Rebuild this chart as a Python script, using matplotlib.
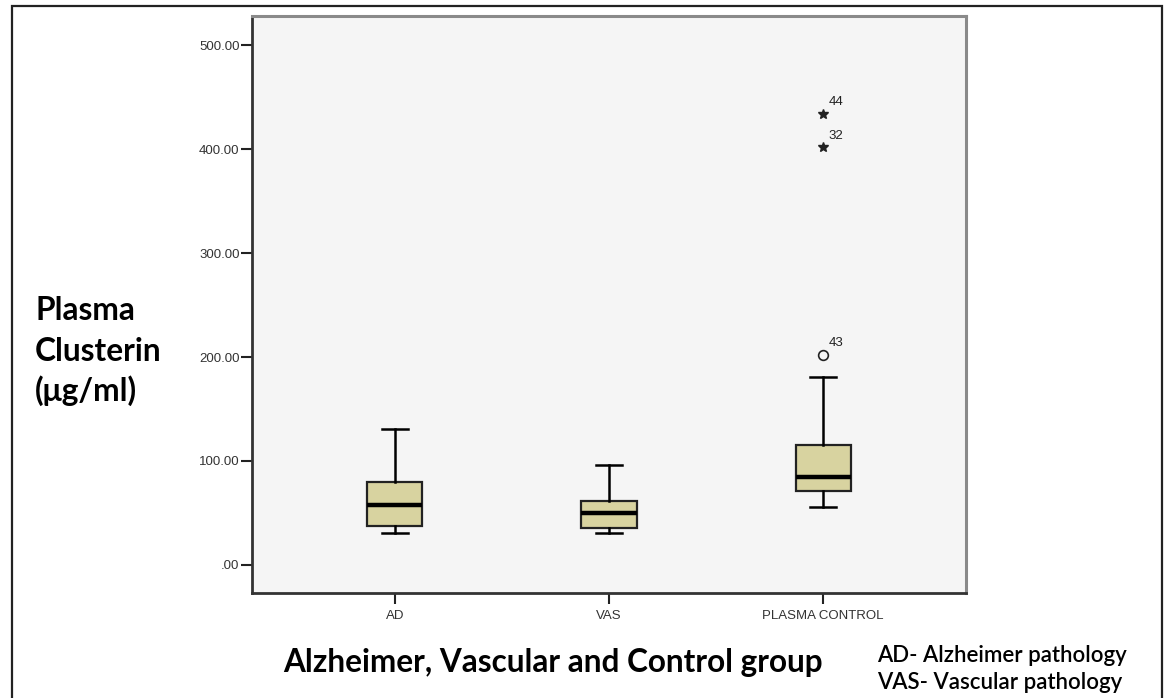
import matplotlib
matplotlib.use("Agg")
import matplotlib.pyplot as plt
from matplotlib.patches import Rectangle

# Box statistics
groups = ["AD", "VAS", "PLASMA CONTROL"]
whislo = [30.5, 30.5, 55.9]
q1 = [37.6, 35.4, 71.3]
med = [57.5, 49.8, 84.8]
q3 = [79.3, 61.7, 115.3]
whishi = [130.7, 96.6, 180.4]

# outliers of the control group
circle_vals = [202.3]
circle_ids = ["43"]
star_vals = [434.2, 402.0]
star_ids = ["44", "32"]

yticks = [0, 100, 200, 300, 400, 500]
ytick_labels = [".00", "100.00", "200.00", "300.00", "400.00", "500.00"]

fig = plt.figure(figsize=(11.65, 6.98), dpi=100)
fig.patch.set_facecolor("white")

# outer frame of the slide
fig.add_artist(Rectangle((12 / 1165, -0.01), (1162 - 12) / 1165, 1 - 6 / 698 + 0.01,
                         transform=fig.transFigure, fill=False,
                         edgecolor="#222222", linewidth=1.6))

ax = fig.add_axes([252 / 1165, 1 - 593 / 698, (966 - 252) / 1165, (593 - 16) / 698])
ax.set_facecolor("#f5f5f5")

stats = []
for i, g in enumerate(groups):
    stats.append(dict(label=g, whislo=whislo[i], q1=q1[i], med=med[i],
                      q3=q3[i], whishi=whishi[i], fliers=[]))

ax.bxp(stats, positions=[1, 2, 3], widths=0.257, patch_artist=True,
       showfliers=False,
       boxprops=dict(facecolor="#d8d3a0", edgecolor="#222222", linewidth=1.6),
       medianprops=dict(color="black", linewidth=3.2),
       whiskerprops=dict(color="black", linewidth=1.8),
       capprops=dict(color="black", linewidth=1.8),
       capwidths=0.12)

# outliers
ax.plot([3] * len(circle_vals), circle_vals, linestyle="none", marker="o",
        markersize=7, markerfacecolor="none", markeredgecolor="#222222",
        markeredgewidth=1.2)
ax.plot([3] * len(star_vals), star_vals, linestyle="none", marker="*",
        markersize=7, color="#222222")
for v, lab in zip(circle_vals + star_vals, circle_ids + star_ids):
    ax.annotate(lab, (3, v), xytext=(4, 6), textcoords="offset points",
                fontsize=9.5, family="Liberation Sans", color="#222222")

ax.set_xlim(0.332, 3.668)
ax.set_ylim(-27, 528)
ax.set_yticks(yticks)
ax.set_yticklabels(ytick_labels)
ax.set_xticks([1, 2, 3])
ax.set_xticklabels(groups)
ax.tick_params(axis="both", direction="out", length=8, width=1.5,
               labelsize=9.5, colors="#222222", labelcolor="#333333")
ax.tick_params(axis="y", pad=1)
ax.tick_params(axis="x", pad=4)
for lab in ax.get_xticklabels() + ax.get_yticklabels():
    lab.set_family("Liberation Sans")

for side in ["left", "bottom"]:
    ax.spines[side].set_color("#333333")
    ax.spines[side].set_linewidth(2)
for side in ["top", "right"]:
    ax.spines[side].set_color("#8a8a8a")
    ax.spines[side].set_linewidth(2.2)

big = dict(family="Lato", fontweight="bold", color="black")
ylab_lines = ["Plasma", "Clusterin", "(\u03bcg/ml)"]
ylab_base = [320, 361, 401]
for txt, yb in zip(ylab_lines, ylab_base):
    fig.text(35 / 1165, 1 - yb / 698, txt, fontsize=22.8,
             va="baseline", ha="left", **big)
fig.text(553 / 1165, 1 - 672 / 698, "Alzheimer, Vascular and Control group",
         fontsize=22.7, ha="center", va="baseline", **big)
fig.text(877 / 1165, 1 - 662 / 698, "AD- Alzheimer pathology", fontsize=16,
         ha="left", va="baseline", family="Lato", fontweight="semibold")
fig.text(877 / 1165, 1 - 689 / 698, "VAS- Vascular pathology", fontsize=16,
         ha="left", va="baseline", family="Lato", fontweight="semibold")

fig.savefig("out.png", dpi=100)
